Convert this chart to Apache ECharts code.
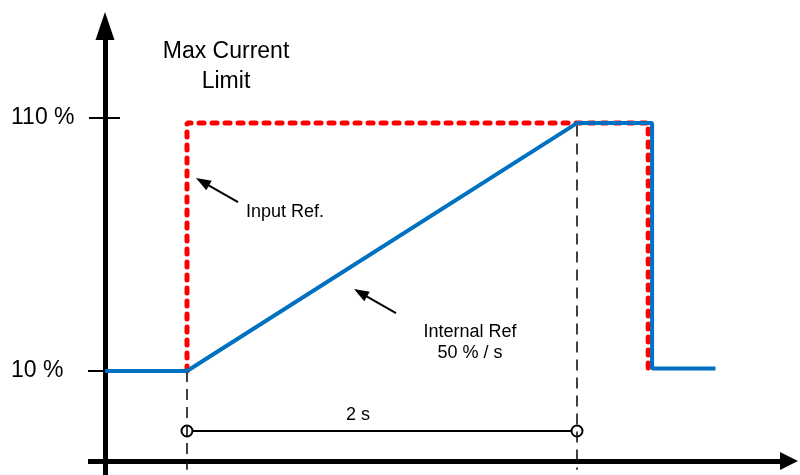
<!DOCTYPE html>
<html>
<head>
<meta charset="utf-8">
<script src="https://cdn.jsdelivr.net/npm/echarts@6/dist/echarts.min.js"></script>
<style>
  html, body { margin: 0; padding: 0; background: #fff; }
  #chart { width: 800px; height: 475px; }
</style>
</head>
<body>
<div id="chart"></div>
<script>
// time in seconds (ramp starts at 0), level in %
var internalT   = [-0.42, 0, 2, 2.385, 2.385, 2.71];
var internalPct = [10, 10, 108, 108, 11, 11];
var inputT      = [0, 0, 2.365, 2.365];
var inputPct    = [10, 108, 108, 11];
var tickPct     = [10, 110];
var spanT       = [0, 2];
var spanLabel   = '2 s';

var FONT = "'Liberation Sans', Arial, sans-serif";
var axisX = -0.4205;   // where the vertical axis sits
var axisY = -25.6;     // where the horizontal axis sits
var spanY = -13.7;

function pairs(xs, ys) {
    var out = [];
    for (var i = 0; i < xs.length; i++) out.push([xs[i], ys[i]]);
    return out;
}
function seg(a, b, endSym, endSize, style) {
    var s = [
        { coord: a, symbol: 'none' },
        { coord: b, symbol: endSym || 'none', symbolSize: endSize || 1 }
    ];
    if (style) { s[0].lineStyle = style; }
    return s;
}
function textAt(x, y, txt, size, lh) {
    return {
        coord: [x, y], symbol: 'circle', symbolSize: 1,
        itemStyle: { color: 'rgba(0,0,0,0)' },
        label: {
            show: true, position: 'inside', formatter: txt,
            color: '#000', fontFamily: FONT, fontSize: size, lineHeight: lh || size + 4
        }
    };
}
var thin = { width: 2 };
var guide = { width: 1.6, type: [11, 7], color: '#111' };

var chart = echarts.init(document.getElementById('chart'));
var option = {
    animation: false,
    backgroundColor: '#fff',
    grid: { left: 88, right: 2, top: 12, bottom: 0, outerBoundsMode: 'none' },
    xAxis: {
        type: 'value', min: -0.5077, max: 3.1333, show: false
    },
    yAxis: {
        type: 'value', min: -31.1, max: 151.9,
        axisLine: { show: false, onZero: false },
        axisTick: { show: false },
        splitLine: { show: false },
        axisLabel: {
            customValues: tickPct, margin: 77, align: 'left',
            formatter: '{value} %', color: '#000', fontFamily: FONT, fontSize: 23
        }
    },
    series: [
        {
            // axes, ticks, guide lines, labels
            name: 'frame', type: 'line', data: [], silent: true, clip: false,
            markLine: {
                silent: true, animation: false,
                label: { show: false },
                emphasis: { disabled: true },
                lineStyle: { color: '#000', width: 5, type: 'solid' },
                data: [
                    seg([axisX, -31.1], [axisX, 146.4], 'triangle', [19, 28]),
                    seg([-0.5077, axisY], [3.087, axisY], 'triangle', [18, 18]),
                    seg([-0.5026, tickPct[1]], [-0.3436, tickPct[1]], null, null, thin),
                    seg([-0.5077, tickPct[0]], [axisX, tickPct[0]], null, null, thin),
                    seg([spanT[0], 10], [spanT[0], -29], null, null, guide),
                    seg([spanT[1], 107], [spanT[1], -29], null, null, guide),
                    seg([0.2615, 76.8], [0.0795, 84.8], 'triangle', [11, 15], thin),
                    seg([1.0718, 32.9], [0.8897, 40.9], 'triangle', [11, 15], thin)
                ]
            },
            markPoint: {
                silent: true, animation: false,
                data: [
                    textAt(0.2, 130.2, 'Max Current\nLimit', 23, 30),
                    textAt(0.503, 72.8, 'Input Ref.', 18),
                    textAt(1.451, 21.3, 'Internal Ref\n50 % / s', 18, 21),
                    textAt(0.877, -7.4, spanLabel, 18)
                ]
            }
        },
        {
            name: 'span', type: 'line', silent: true, z: 3,
            data: pairs(spanT, [spanY, spanY]),
            symbol: 'circle', symbolSize: 11, showSymbol: true,
            itemStyle: { color: '#fff', borderColor: '#000', borderWidth: 2 },
            lineStyle: { color: '#000', width: 2 }
        },
        {
            name: 'Input Ref.', type: 'line', silent: true, z: 4,
            data: pairs(inputT, inputPct),
            symbol: 'none',
            lineStyle: { color: '#ff0000', width: 5, type: [5, 8], cap: 'round' }
        },
        {
            name: 'Internal Ref', type: 'line', silent: true, z: 5,
            data: pairs(internalT, internalPct),
            symbol: 'none',
            lineStyle: { color: '#0070c0', width: 4 }
        }
    ]
};
chart.setOption(option);
</script>
</body>
</html>
